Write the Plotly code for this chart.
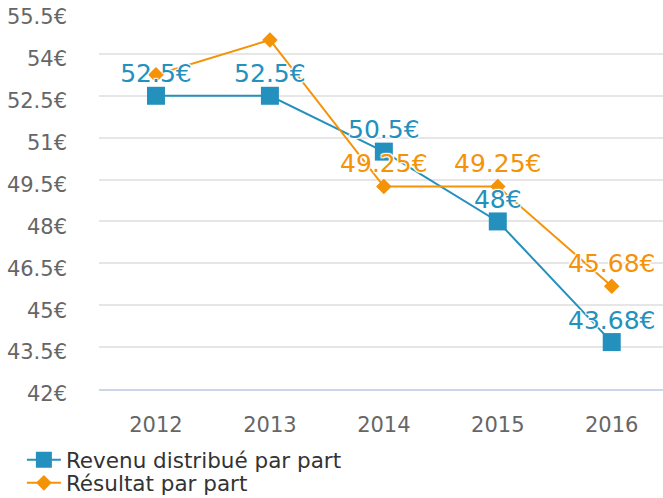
import plotly.graph_objects as go

years = ["2012", "2013", "2014", "2015", "2016"]
revenu = [52.5, 52.5, 50.5, 48, 43.68]
resultat = [53.25, 54.5, 49.25, 49.25, 45.68]
resultat_label_shown = [False, False, True, True, True]
y_ticks = [42, 43.5, 45, 46.5, 48, 49.5, 51, 52.5, 54, 55.5]

BLUE = "#2490bd"
ORANGE = "#f49208"
FONT = "DejaVu Sans"
OUTLINE = "1px 1px 1px #fff, -1px -1px 1px #fff, 1px -1px 1px #fff, -1px 1px 1px #fff, 0 0 2px #fff"


def fmt(v):
    s = ("%.2f" % v).rstrip("0").rstrip(".")
    return s + "€"


fig = go.Figure()
fig.add_trace(go.Scatter(
    x=years, y=revenu, name="Revenu distribué par part",
    mode="lines+markers",
    line=dict(color=BLUE, width=2),
    marker=dict(symbol="square", size=18, color=BLUE),
    legend="legend", cliponaxis=False,
))
fig.add_trace(go.Scatter(
    x=years, y=resultat, name="Résultat par part",
    mode="lines+markers",
    line=dict(color=ORANGE, width=2),
    marker=dict(symbol="diamond", size=12, color=ORANGE),
    legend="legend2", cliponaxis=False,
))
# data labels drawn above both series
fig.add_trace(go.Scatter(
    x=years, y=revenu, mode="markers+text", showlegend=False, hoverinfo="skip",
    marker=dict(size=10, opacity=0),
    text=[fmt(v) for v in revenu], textposition="top center",
    textfont=dict(family=FONT, size=25, color=BLUE, shadow=OUTLINE),
    cliponaxis=False,
))
fig.add_trace(go.Scatter(
    x=years, y=resultat, mode="markers+text", showlegend=False, hoverinfo="skip",
    marker=dict(size=11, opacity=0),
    text=[fmt(v) if s else "" for v, s in zip(resultat, resultat_label_shown)],
    textposition="top center",
    textfont=dict(family=FONT, size=25, color=ORANGE, shadow=OUTLINE),
    cliponaxis=False,
))

legend_common = dict(
    xref="container", yref="container", x=0.033,
    xanchor="left", yanchor="top", orientation="v", itemwidth=34,
    font=dict(family=FONT, size=21.5, color="#333333"),
    bgcolor="rgba(0,0,0,0)",
)

fig.update_layout(
    width=663, height=498,
    margin=dict(l=99, r=0, t=12, b=109, autoexpand=False),
    paper_bgcolor="white", plot_bgcolor="white",
    font=dict(family=FONT, color="#666666"),
    showlegend=True,
    legend=dict(y=0.118, **legend_common),
    legend2=dict(y=0.0715, **legend_common),
    xaxis=dict(
        type="category", range=[-0.5, 4.45],
        showgrid=False, showline=True, linecolor="#ccd6eb", linewidth=2,
        ticks="", tickfont=dict(family=FONT, size=21, color="#666666"),
        ticklabelstandoff=16, zeroline=False,
    ),
    yaxis=dict(
        range=[42, 55.5], tickvals=y_ticks,
        ticktext=[fmt(v) for v in y_ticks],
        showgrid=True, gridcolor="#e6e6e6", gridwidth=2,
        zeroline=False, showline=False, ticks="",
        tickfont=dict(family=FONT, size=21, color="#666666"),
        ticklabelstandoff=31, ticklabelshift=5,
    ),
)

fig.write_html(
    "out.html",
    config={"displayModeBar": False},
    post_script="document.body.style.margin='0';document.body.style.overflow='hidden';",
)
